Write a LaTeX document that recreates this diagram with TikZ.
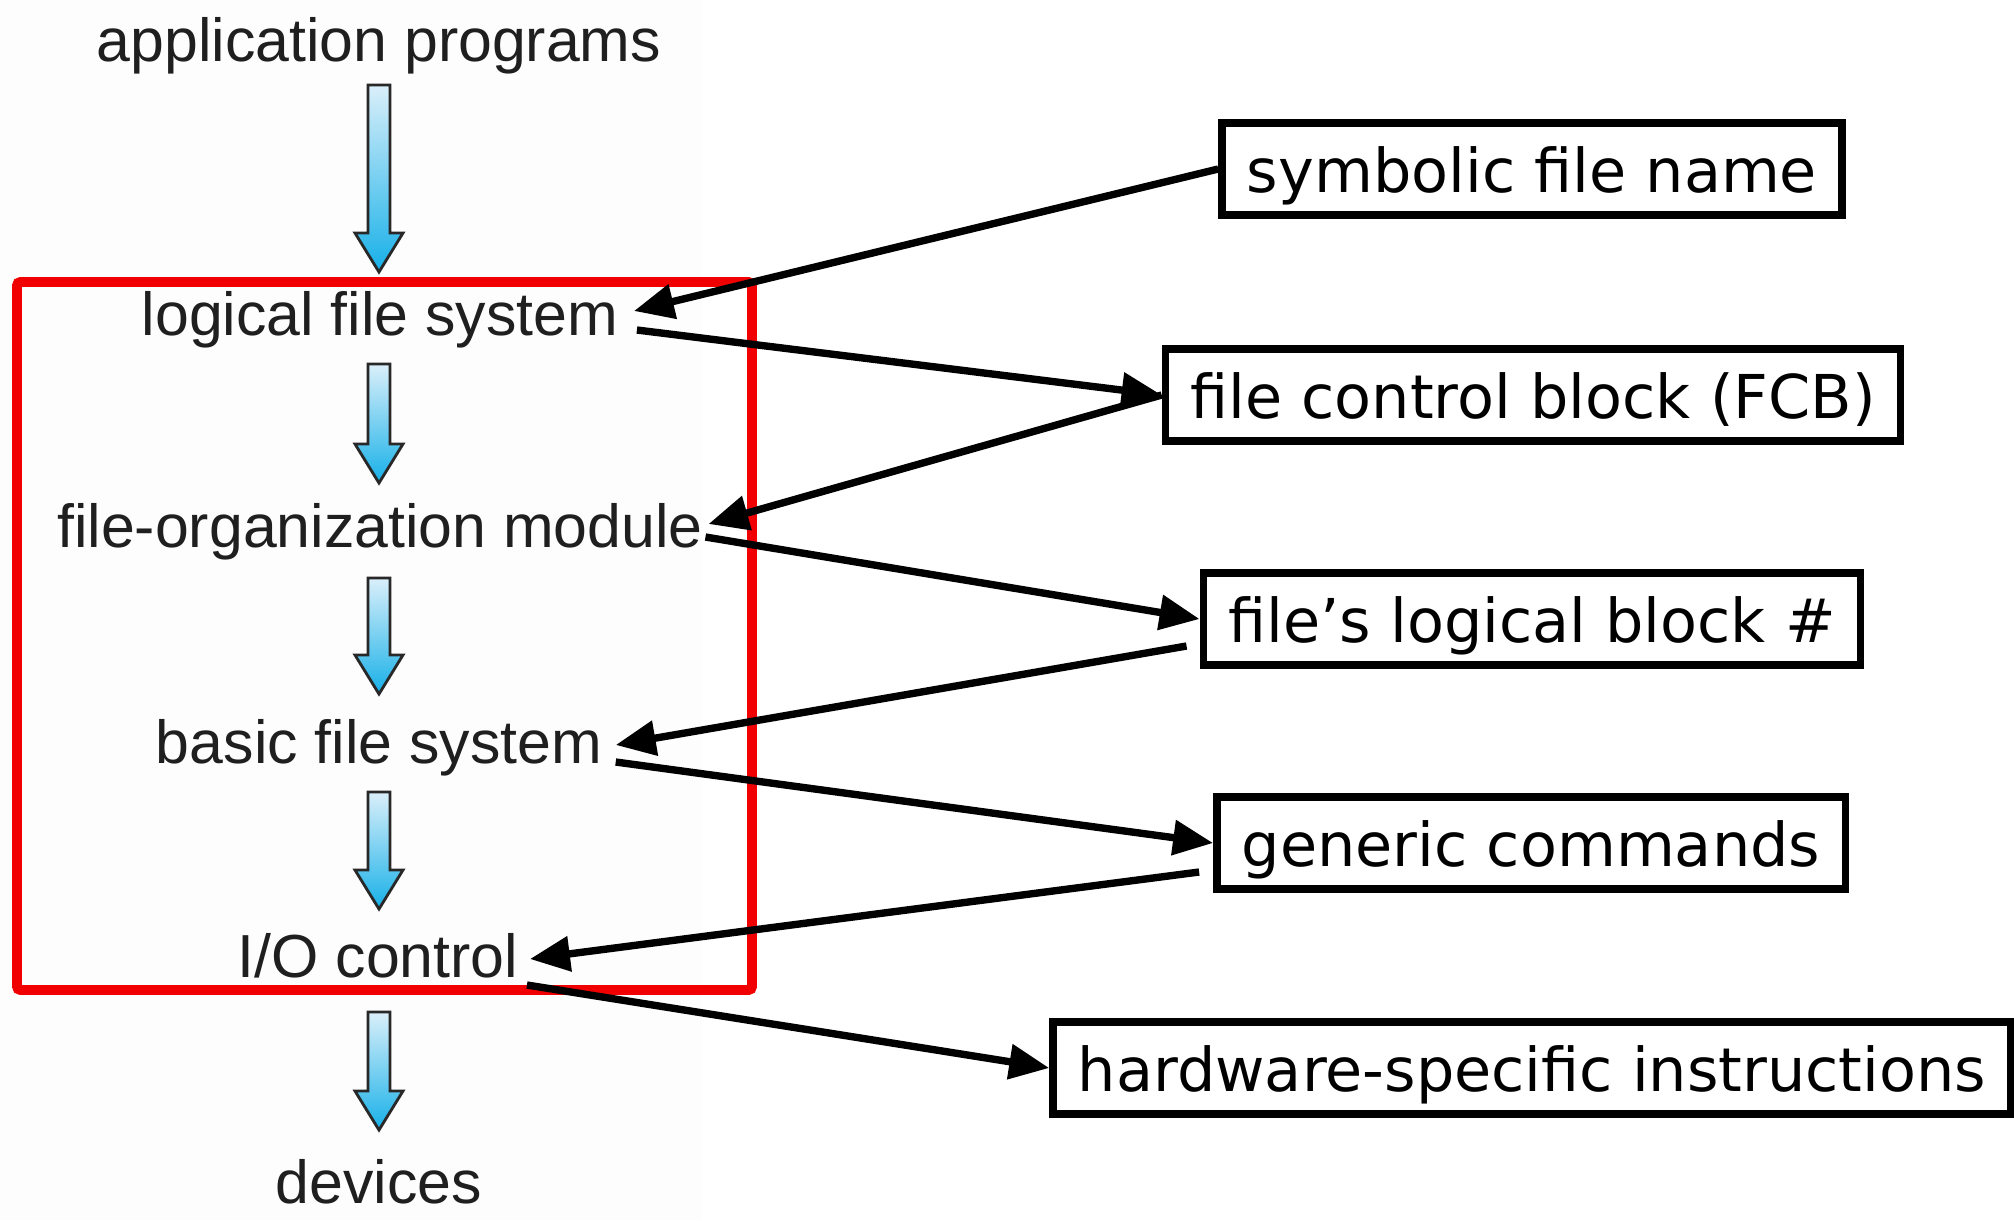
\documentclass[tikz,border=0pt]{standalone}
\usepackage{fontspec}
\usetikzlibrary{arrows.meta}
\newfontfamily\layerfont{Liberation Sans}
\newfontfamily\boxfont{DejaVu Sans}
\definecolor{figline}{RGB}{0,0,0}
\definecolor{figred}{RGB}{240,0,0}
\definecolor{figpanel}{RGB}{253,253,253}
\definecolor{flowtop}{RGB}{218,239,250}
\definecolor{flowbot}{RGB}{22,176,232}
\definecolor{flowedge}{RGB}{40,40,40}
\tikzset{
  layer/.style ={font=\layerfont\fontsize{17.3}{20}\selectfont, inner sep=0pt, anchor=base, text=black!88},
  info/.style  ={draw=figline, line width=2.1pt, font=\boxfont\fontsize{17.2}{20}\selectfont,
                 inner xsep=0.25cm, inner ysep=0.14cm, text height=0.55cm, text depth=0.09cm},
  ptr/.style   ={draw=figline, line width=2.1pt, -{Triangle[length=0.4cm,width=0.34cm]}},
  flow/.style  ={draw=flowedge, line width=0.8pt, top color=flowtop, bottom color=flowbot, line join=miter},
  stack/.style ={draw=figred, line width=2.8pt, rounded corners=1pt},
}

\begin{document}
\begin{tikzpicture}
  \useasboundingbox (0,0) rectangle (20.14,-12.2);
  \fill[figpanel] (0,0) rectangle (7.02,-12.2);
  % layers of the file system
  \node[layer] (app) at (3.79,-0.61) {application programs};
  \node[layer] (lfs) at (3.80,-3.35) {logical file system};
  \node[layer] (fom) at (3.80,-5.47) {file-organization module};
  \node[layer] (bfs) at (3.79,-7.63) {basic file system};
  \node[layer] (ioc) at (3.78,-9.77) {I/O control};
  \node[layer] (dev) at (3.79,-12.03) {devices};
  \foreach \ya/\yb in {0.85/2.72, 3.64/4.83, 5.78/6.94, 7.92/9.09, 10.12/11.30} {
    \pgfmathsetmacro\yh{\yb-0.39}
    \draw[flow] (3.68,-\ya) -- (3.90,-\ya) -- (3.90,-\yh) -- (4.03,-\yh)
      -- (3.79,-\yb) -- (3.55,-\yh) -- (3.68,-\yh) -- cycle;
  }
  \draw[stack] (0.17,-2.82) rectangle (7.52,-9.90);
  % what passes between the layers
  \node[info] (sym) at (15.32,-1.69) {symbolic file name};
  \node[info] (fcb) at (15.33,-3.95) {file control block (FCB)};
  \node[info] (flb) at (15.32,-6.19) {file’s logical block \#};
  \node[info] (gen) at (15.31,-8.43) {generic commands};
  \node[info] (hw)  at (15.32,-10.68) {hardware-specific instructions};
  \draw[ptr] (sym.west) -- ([shift={(0.15,0.24)}]lfs.base east);
  \draw[ptr] ([shift={(0.18,0.05)}]lfs.base east) -- (fcb.west);
  \draw[ptr] (fcb.west) -- ([shift={(0.05,0.23)}]fom.base east);
  \draw[ptr] ([shift={(0.02,0.10)}]fom.base east) -- (flb.west);
  \draw[ptr] ([shift={(-0.13,-0.27)}]flb.west) -- ([shift={(0.13,0.18)}]bfs.base east);
  \draw[ptr] ([shift={(0.13,0.01)}]bfs.base east) -- (gen.west);
  \draw[ptr] ([shift={(-0.14,-0.29)}]gen.west) -- ([shift={(0.11,0.18)}]ioc.base east);
  \draw[ptr] ([shift={(0.08,-0.08)}]ioc.base east) -- (hw.west);
\end{tikzpicture}
\end{document}
